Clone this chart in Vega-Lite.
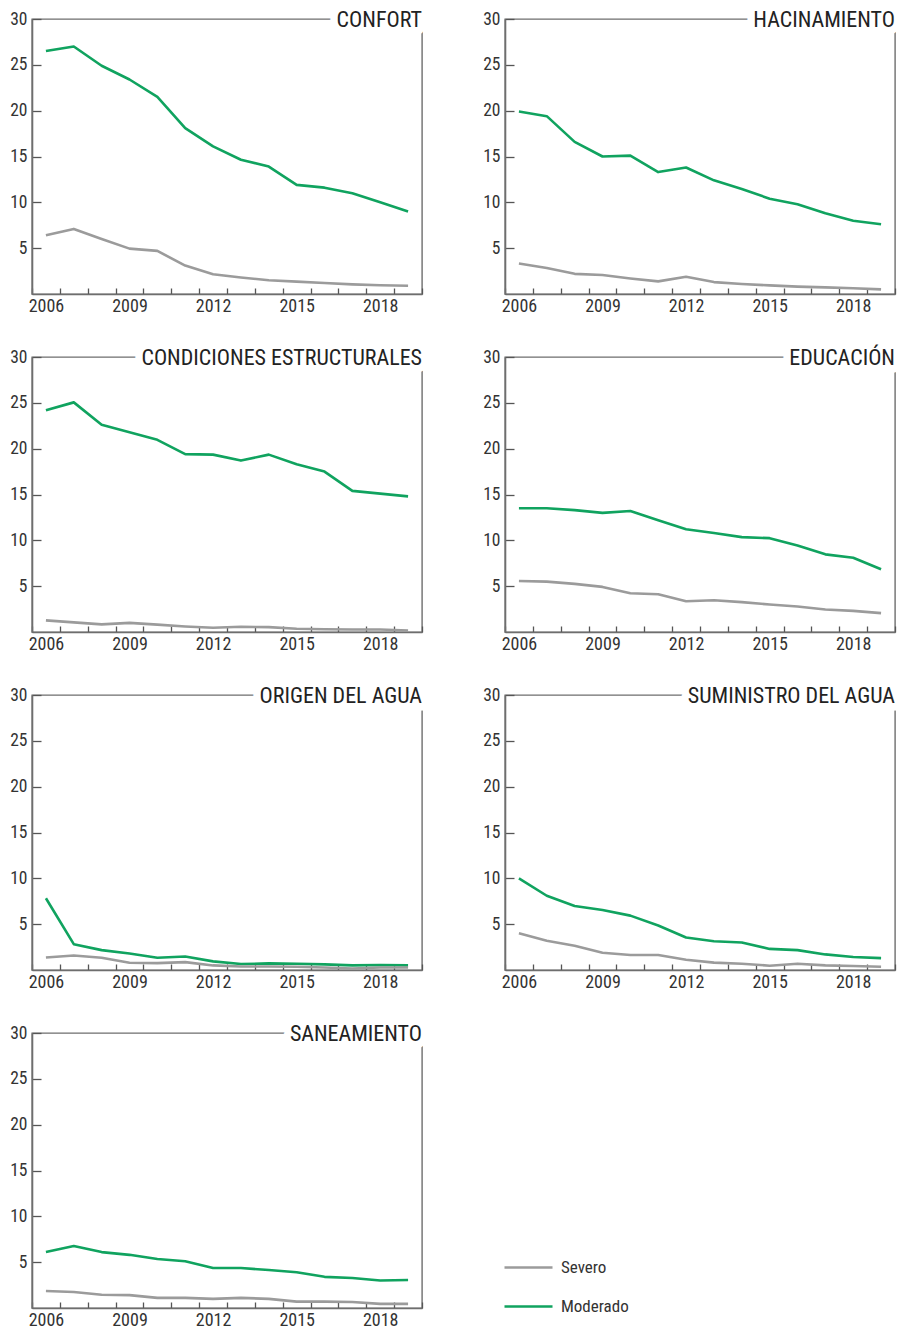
{
  "$schema": "https://vega.github.io/schema/vega-lite/v6.json",
  "padding": {"left": 9, "top": 8, "right": 4, "bottom": 5},
  "bounds": "flush",
  "columns": 2,
  "spacing": {"row": 63, "column": 83},
  "data": {"values": [
    {"panel": "CONFORT", "level": "Moderado", "year": 2006, "value": 26.5},
    {"panel": "CONFORT", "level": "Moderado", "year": 2007, "value": 27.0},
    {"panel": "CONFORT", "level": "Moderado", "year": 2008, "value": 24.9},
    {"panel": "CONFORT", "level": "Moderado", "year": 2009, "value": 23.4},
    {"panel": "CONFORT", "level": "Moderado", "year": 2010, "value": 21.5},
    {"panel": "CONFORT", "level": "Moderado", "year": 2011, "value": 18.1},
    {"panel": "CONFORT", "level": "Moderado", "year": 2012, "value": 16.1},
    {"panel": "CONFORT", "level": "Moderado", "year": 2013, "value": 14.65},
    {"panel": "CONFORT", "level": "Moderado", "year": 2014, "value": 13.9},
    {"panel": "CONFORT", "level": "Moderado", "year": 2015, "value": 11.9},
    {"panel": "CONFORT", "level": "Moderado", "year": 2016, "value": 11.6},
    {"panel": "CONFORT", "level": "Moderado", "year": 2017, "value": 11.0},
    {"panel": "CONFORT", "level": "Moderado", "year": 2018, "value": 10.0},
    {"panel": "CONFORT", "level": "Moderado", "year": 2019, "value": 9.0},
    {"panel": "CONFORT", "level": "Severo", "year": 2006, "value": 6.4},
    {"panel": "CONFORT", "level": "Severo", "year": 2007, "value": 7.1},
    {"panel": "CONFORT", "level": "Severo", "year": 2008, "value": 6.0},
    {"panel": "CONFORT", "level": "Severo", "year": 2009, "value": 4.95},
    {"panel": "CONFORT", "level": "Severo", "year": 2010, "value": 4.7},
    {"panel": "CONFORT", "level": "Severo", "year": 2011, "value": 3.1},
    {"panel": "CONFORT", "level": "Severo", "year": 2012, "value": 2.15},
    {"panel": "CONFORT", "level": "Severo", "year": 2013, "value": 1.8},
    {"panel": "CONFORT", "level": "Severo", "year": 2014, "value": 1.5},
    {"panel": "CONFORT", "level": "Severo", "year": 2015, "value": 1.35},
    {"panel": "CONFORT", "level": "Severo", "year": 2016, "value": 1.2},
    {"panel": "CONFORT", "level": "Severo", "year": 2017, "value": 1.05},
    {"panel": "CONFORT", "level": "Severo", "year": 2018, "value": 0.95},
    {"panel": "CONFORT", "level": "Severo", "year": 2019, "value": 0.9},
    {"panel": "HACINAMIENTO", "level": "Moderado", "year": 2006, "value": 19.9},
    {"panel": "HACINAMIENTO", "level": "Moderado", "year": 2007, "value": 19.4},
    {"panel": "HACINAMIENTO", "level": "Moderado", "year": 2008, "value": 16.6},
    {"panel": "HACINAMIENTO", "level": "Moderado", "year": 2009, "value": 15.0},
    {"panel": "HACINAMIENTO", "level": "Moderado", "year": 2010, "value": 15.1},
    {"panel": "HACINAMIENTO", "level": "Moderado", "year": 2011, "value": 13.3},
    {"panel": "HACINAMIENTO", "level": "Moderado", "year": 2012, "value": 13.8},
    {"panel": "HACINAMIENTO", "level": "Moderado", "year": 2013, "value": 12.4},
    {"panel": "HACINAMIENTO", "level": "Moderado", "year": 2014, "value": 11.45},
    {"panel": "HACINAMIENTO", "level": "Moderado", "year": 2015, "value": 10.4},
    {"panel": "HACINAMIENTO", "level": "Moderado", "year": 2016, "value": 9.8},
    {"panel": "HACINAMIENTO", "level": "Moderado", "year": 2017, "value": 8.8},
    {"panel": "HACINAMIENTO", "level": "Moderado", "year": 2018, "value": 8.0},
    {"panel": "HACINAMIENTO", "level": "Moderado", "year": 2019, "value": 7.6},
    {"panel": "HACINAMIENTO", "level": "Severo", "year": 2006, "value": 3.33},
    {"panel": "HACINAMIENTO", "level": "Severo", "year": 2007, "value": 2.83},
    {"panel": "HACINAMIENTO", "level": "Severo", "year": 2008, "value": 2.2},
    {"panel": "HACINAMIENTO", "level": "Severo", "year": 2009, "value": 2.07},
    {"panel": "HACINAMIENTO", "level": "Severo", "year": 2010, "value": 1.7},
    {"panel": "HACINAMIENTO", "level": "Severo", "year": 2011, "value": 1.38},
    {"panel": "HACINAMIENTO", "level": "Severo", "year": 2012, "value": 1.88},
    {"panel": "HACINAMIENTO", "level": "Severo", "year": 2013, "value": 1.3},
    {"panel": "HACINAMIENTO", "level": "Severo", "year": 2014, "value": 1.09},
    {"panel": "HACINAMIENTO", "level": "Severo", "year": 2015, "value": 0.94},
    {"panel": "HACINAMIENTO", "level": "Severo", "year": 2016, "value": 0.8},
    {"panel": "HACINAMIENTO", "level": "Severo", "year": 2017, "value": 0.72},
    {"panel": "HACINAMIENTO", "level": "Severo", "year": 2018, "value": 0.62},
    {"panel": "HACINAMIENTO", "level": "Severo", "year": 2019, "value": 0.5},
    {"panel": "CONDICIONES ESTRUCTURALES", "level": "Moderado", "year": 2006, "value": 24.2},
    {"panel": "CONDICIONES ESTRUCTURALES", "level": "Moderado", "year": 2007, "value": 25.05},
    {"panel": "CONDICIONES ESTRUCTURALES", "level": "Moderado", "year": 2008, "value": 22.6},
    {"panel": "CONDICIONES ESTRUCTURALES", "level": "Moderado", "year": 2009, "value": 21.8},
    {"panel": "CONDICIONES ESTRUCTURALES", "level": "Moderado", "year": 2010, "value": 20.96},
    {"panel": "CONDICIONES ESTRUCTURALES", "level": "Moderado", "year": 2011, "value": 19.4},
    {"panel": "CONDICIONES ESTRUCTURALES", "level": "Moderado", "year": 2012, "value": 19.35},
    {"panel": "CONDICIONES ESTRUCTURALES", "level": "Moderado", "year": 2013, "value": 18.7},
    {"panel": "CONDICIONES ESTRUCTURALES", "level": "Moderado", "year": 2014, "value": 19.35},
    {"panel": "CONDICIONES ESTRUCTURALES", "level": "Moderado", "year": 2015, "value": 18.3},
    {"panel": "CONDICIONES ESTRUCTURALES", "level": "Moderado", "year": 2016, "value": 17.5},
    {"panel": "CONDICIONES ESTRUCTURALES", "level": "Moderado", "year": 2017, "value": 15.4},
    {"panel": "CONDICIONES ESTRUCTURALES", "level": "Moderado", "year": 2018, "value": 15.1},
    {"panel": "CONDICIONES ESTRUCTURALES", "level": "Moderado", "year": 2019, "value": 14.8},
    {"panel": "CONDICIONES ESTRUCTURALES", "level": "Severo", "year": 2006, "value": 1.27},
    {"panel": "CONDICIONES ESTRUCTURALES", "level": "Severo", "year": 2007, "value": 1.05},
    {"panel": "CONDICIONES ESTRUCTURALES", "level": "Severo", "year": 2008, "value": 0.83},
    {"panel": "CONDICIONES ESTRUCTURALES", "level": "Severo", "year": 2009, "value": 1.0},
    {"panel": "CONDICIONES ESTRUCTURALES", "level": "Severo", "year": 2010, "value": 0.8},
    {"panel": "CONDICIONES ESTRUCTURALES", "level": "Severo", "year": 2011, "value": 0.6},
    {"panel": "CONDICIONES ESTRUCTURALES", "level": "Severo", "year": 2012, "value": 0.46},
    {"panel": "CONDICIONES ESTRUCTURALES", "level": "Severo", "year": 2013, "value": 0.57},
    {"panel": "CONDICIONES ESTRUCTURALES", "level": "Severo", "year": 2014, "value": 0.53},
    {"panel": "CONDICIONES ESTRUCTURALES", "level": "Severo", "year": 2015, "value": 0.35},
    {"panel": "CONDICIONES ESTRUCTURALES", "level": "Severo", "year": 2016, "value": 0.3},
    {"panel": "CONDICIONES ESTRUCTURALES", "level": "Severo", "year": 2017, "value": 0.28},
    {"panel": "CONDICIONES ESTRUCTURALES", "level": "Severo", "year": 2018, "value": 0.28},
    {"panel": "CONDICIONES ESTRUCTURALES", "level": "Severo", "year": 2019, "value": 0.17},
    {"panel": "EDUCACIÓN", "level": "Moderado", "year": 2006, "value": 13.5},
    {"panel": "EDUCACIÓN", "level": "Moderado", "year": 2007, "value": 13.5},
    {"panel": "EDUCACIÓN", "level": "Moderado", "year": 2008, "value": 13.3},
    {"panel": "EDUCACIÓN", "level": "Moderado", "year": 2009, "value": 13.0},
    {"panel": "EDUCACIÓN", "level": "Moderado", "year": 2010, "value": 13.2},
    {"panel": "EDUCACIÓN", "level": "Moderado", "year": 2011, "value": 12.2},
    {"panel": "EDUCACIÓN", "level": "Moderado", "year": 2012, "value": 11.2},
    {"panel": "EDUCACIÓN", "level": "Moderado", "year": 2013, "value": 10.8},
    {"panel": "EDUCACIÓN", "level": "Moderado", "year": 2014, "value": 10.35},
    {"panel": "EDUCACIÓN", "level": "Moderado", "year": 2015, "value": 10.24},
    {"panel": "EDUCACIÓN", "level": "Moderado", "year": 2016, "value": 9.44},
    {"panel": "EDUCACIÓN", "level": "Moderado", "year": 2017, "value": 8.47},
    {"panel": "EDUCACIÓN", "level": "Moderado", "year": 2018, "value": 8.1},
    {"panel": "EDUCACIÓN", "level": "Moderado", "year": 2019, "value": 6.84},
    {"panel": "EDUCACIÓN", "level": "Severo", "year": 2006, "value": 5.57},
    {"panel": "EDUCACIÓN", "level": "Severo", "year": 2007, "value": 5.5},
    {"panel": "EDUCACIÓN", "level": "Severo", "year": 2008, "value": 5.25},
    {"panel": "EDUCACIÓN", "level": "Severo", "year": 2009, "value": 4.92},
    {"panel": "EDUCACIÓN", "level": "Severo", "year": 2010, "value": 4.23},
    {"panel": "EDUCACIÓN", "level": "Severo", "year": 2011, "value": 4.12},
    {"panel": "EDUCACIÓN", "level": "Severo", "year": 2012, "value": 3.36},
    {"panel": "EDUCACIÓN", "level": "Severo", "year": 2013, "value": 3.47},
    {"panel": "EDUCACIÓN", "level": "Severo", "year": 2014, "value": 3.26},
    {"panel": "EDUCACIÓN", "level": "Severo", "year": 2015, "value": 3.0},
    {"panel": "EDUCACIÓN", "level": "Severo", "year": 2016, "value": 2.79},
    {"panel": "EDUCACIÓN", "level": "Severo", "year": 2017, "value": 2.46},
    {"panel": "EDUCACIÓN", "level": "Severo", "year": 2018, "value": 2.3},
    {"panel": "EDUCACIÓN", "level": "Severo", "year": 2019, "value": 2.06},
    {"panel": "ORIGEN DEL AGUA", "level": "Moderado", "year": 2006, "value": 7.83},
    {"panel": "ORIGEN DEL AGUA", "level": "Moderado", "year": 2007, "value": 2.82},
    {"panel": "ORIGEN DEL AGUA", "level": "Moderado", "year": 2008, "value": 2.17},
    {"panel": "ORIGEN DEL AGUA", "level": "Moderado", "year": 2009, "value": 1.8},
    {"panel": "ORIGEN DEL AGUA", "level": "Moderado", "year": 2010, "value": 1.34},
    {"panel": "ORIGEN DEL AGUA", "level": "Moderado", "year": 2011, "value": 1.48},
    {"panel": "ORIGEN DEL AGUA", "level": "Moderado", "year": 2012, "value": 0.94},
    {"panel": "ORIGEN DEL AGUA", "level": "Moderado", "year": 2013, "value": 0.65},
    {"panel": "ORIGEN DEL AGUA", "level": "Moderado", "year": 2014, "value": 0.72},
    {"panel": "ORIGEN DEL AGUA", "level": "Moderado", "year": 2015, "value": 0.68},
    {"panel": "ORIGEN DEL AGUA", "level": "Moderado", "year": 2016, "value": 0.61},
    {"panel": "ORIGEN DEL AGUA", "level": "Moderado", "year": 2017, "value": 0.5},
    {"panel": "ORIGEN DEL AGUA", "level": "Moderado", "year": 2018, "value": 0.54},
    {"panel": "ORIGEN DEL AGUA", "level": "Moderado", "year": 2019, "value": 0.5},
    {"panel": "ORIGEN DEL AGUA", "level": "Severo", "year": 2006, "value": 1.37},
    {"panel": "ORIGEN DEL AGUA", "level": "Severo", "year": 2007, "value": 1.59},
    {"panel": "ORIGEN DEL AGUA", "level": "Severo", "year": 2008, "value": 1.34},
    {"panel": "ORIGEN DEL AGUA", "level": "Severo", "year": 2009, "value": 0.79},
    {"panel": "ORIGEN DEL AGUA", "level": "Severo", "year": 2010, "value": 0.75},
    {"panel": "ORIGEN DEL AGUA", "level": "Severo", "year": 2011, "value": 0.86},
    {"panel": "ORIGEN DEL AGUA", "level": "Severo", "year": 2012, "value": 0.5},
    {"panel": "ORIGEN DEL AGUA", "level": "Severo", "year": 2013, "value": 0.39},
    {"panel": "ORIGEN DEL AGUA", "level": "Severo", "year": 2014, "value": 0.39},
    {"panel": "ORIGEN DEL AGUA", "level": "Severo", "year": 2015, "value": 0.36},
    {"panel": "ORIGEN DEL AGUA", "level": "Severo", "year": 2016, "value": 0.28},
    {"panel": "ORIGEN DEL AGUA", "level": "Severo", "year": 2017, "value": 0.17},
    {"panel": "ORIGEN DEL AGUA", "level": "Severo", "year": 2018, "value": 0.28},
    {"panel": "ORIGEN DEL AGUA", "level": "Severo", "year": 2019, "value": 0.28},
    {"panel": "SUMINISTRO DEL AGUA", "level": "Moderado", "year": 2006, "value": 10.0},
    {"panel": "SUMINISTRO DEL AGUA", "level": "Moderado", "year": 2007, "value": 8.1},
    {"panel": "SUMINISTRO DEL AGUA", "level": "Moderado", "year": 2008, "value": 6.98},
    {"panel": "SUMINISTRO DEL AGUA", "level": "Moderado", "year": 2009, "value": 6.55},
    {"panel": "SUMINISTRO DEL AGUA", "level": "Moderado", "year": 2010, "value": 5.93},
    {"panel": "SUMINISTRO DEL AGUA", "level": "Moderado", "year": 2011, "value": 4.85},
    {"panel": "SUMINISTRO DEL AGUA", "level": "Moderado", "year": 2012, "value": 3.54},
    {"panel": "SUMINISTRO DEL AGUA", "level": "Moderado", "year": 2013, "value": 3.14},
    {"panel": "SUMINISTRO DEL AGUA", "level": "Moderado", "year": 2014, "value": 3.0},
    {"panel": "SUMINISTRO DEL AGUA", "level": "Moderado", "year": 2015, "value": 2.3},
    {"panel": "SUMINISTRO DEL AGUA", "level": "Moderado", "year": 2016, "value": 2.17},
    {"panel": "SUMINISTRO DEL AGUA", "level": "Moderado", "year": 2017, "value": 1.7},
    {"panel": "SUMINISTRO DEL AGUA", "level": "Moderado", "year": 2018, "value": 1.41},
    {"panel": "SUMINISTRO DEL AGUA", "level": "Moderado", "year": 2019, "value": 1.3},
    {"panel": "SUMINISTRO DEL AGUA", "level": "Severo", "year": 2006, "value": 4.0},
    {"panel": "SUMINISTRO DEL AGUA", "level": "Severo", "year": 2007, "value": 3.2},
    {"panel": "SUMINISTRO DEL AGUA", "level": "Severo", "year": 2008, "value": 2.65},
    {"panel": "SUMINISTRO DEL AGUA", "level": "Severo", "year": 2009, "value": 1.88},
    {"panel": "SUMINISTRO DEL AGUA", "level": "Severo", "year": 2010, "value": 1.63},
    {"panel": "SUMINISTRO DEL AGUA", "level": "Severo", "year": 2011, "value": 1.63},
    {"panel": "SUMINISTRO DEL AGUA", "level": "Severo", "year": 2012, "value": 1.12},
    {"panel": "SUMINISTRO DEL AGUA", "level": "Severo", "year": 2013, "value": 0.8},
    {"panel": "SUMINISTRO DEL AGUA", "level": "Severo", "year": 2014, "value": 0.69},
    {"panel": "SUMINISTRO DEL AGUA", "level": "Severo", "year": 2015, "value": 0.47},
    {"panel": "SUMINISTRO DEL AGUA", "level": "Severo", "year": 2016, "value": 0.69},
    {"panel": "SUMINISTRO DEL AGUA", "level": "Severo", "year": 2017, "value": 0.5},
    {"panel": "SUMINISTRO DEL AGUA", "level": "Severo", "year": 2018, "value": 0.43},
    {"panel": "SUMINISTRO DEL AGUA", "level": "Severo", "year": 2019, "value": 0.36},
    {"panel": "SANEAMIENTO", "level": "Moderado", "year": 2006, "value": 6.1},
    {"panel": "SANEAMIENTO", "level": "Moderado", "year": 2007, "value": 6.76},
    {"panel": "SANEAMIENTO", "level": "Moderado", "year": 2008, "value": 6.1},
    {"panel": "SANEAMIENTO", "level": "Moderado", "year": 2009, "value": 5.8},
    {"panel": "SANEAMIENTO", "level": "Moderado", "year": 2010, "value": 5.35},
    {"panel": "SANEAMIENTO", "level": "Moderado", "year": 2011, "value": 5.1},
    {"panel": "SANEAMIENTO", "level": "Moderado", "year": 2012, "value": 4.36},
    {"panel": "SANEAMIENTO", "level": "Moderado", "year": 2013, "value": 4.36},
    {"panel": "SANEAMIENTO", "level": "Moderado", "year": 2014, "value": 4.15},
    {"panel": "SANEAMIENTO", "level": "Moderado", "year": 2015, "value": 3.9},
    {"panel": "SANEAMIENTO", "level": "Moderado", "year": 2016, "value": 3.4},
    {"panel": "SANEAMIENTO", "level": "Moderado", "year": 2017, "value": 3.27},
    {"panel": "SANEAMIENTO", "level": "Moderado", "year": 2018, "value": 3.0},
    {"panel": "SANEAMIENTO", "level": "Moderado", "year": 2019, "value": 3.05},
    {"panel": "SANEAMIENTO", "level": "Severo", "year": 2006, "value": 1.85},
    {"panel": "SANEAMIENTO", "level": "Severo", "year": 2007, "value": 1.75},
    {"panel": "SANEAMIENTO", "level": "Severo", "year": 2008, "value": 1.45},
    {"panel": "SANEAMIENTO", "level": "Severo", "year": 2009, "value": 1.4},
    {"panel": "SANEAMIENTO", "level": "Severo", "year": 2010, "value": 1.1},
    {"panel": "SANEAMIENTO", "level": "Severo", "year": 2011, "value": 1.1},
    {"panel": "SANEAMIENTO", "level": "Severo", "year": 2012, "value": 1.0},
    {"panel": "SANEAMIENTO", "level": "Severo", "year": 2013, "value": 1.1},
    {"panel": "SANEAMIENTO", "level": "Severo", "year": 2014, "value": 1.0},
    {"panel": "SANEAMIENTO", "level": "Severo", "year": 2015, "value": 0.7},
    {"panel": "SANEAMIENTO", "level": "Severo", "year": 2016, "value": 0.7},
    {"panel": "SANEAMIENTO", "level": "Severo", "year": 2017, "value": 0.65},
    {"panel": "SANEAMIENTO", "level": "Severo", "year": 2018, "value": 0.45},
    {"panel": "SANEAMIENTO", "level": "Severo", "year": 2019, "value": 0.45}
  ]},
  "facet": {
    "field": "panel",
    "type": "nominal",
    "title": null,
    "header": {"labels": false, "labelFontSize": 0, "labelExpr": "''", "labelPadding": 0, "title": null},
    "sort": ["CONFORT", "HACINAMIENTO", "CONDICIONES ESTRUCTURALES", "EDUCACIÓN", "ORIGEN DEL AGUA", "SUMINISTRO DEL AGUA", "SANEAMIENTO"]
  },
  "spec": {
    "width": 390,
    "height": 275,
    "layer": [
      {
        "mark": {"type": "line", "strokeWidth": 2.6, "strokeJoin": "round"},
        "encoding": {
          "x": {
            "field": "year",
            "type": "ordinal",
            "bandPosition": 0.5,
            "scale": {"type": "band", "paddingInner": 0, "paddingOuter": 0},
            "title": null,
            "axis": {
              "tickBand": "extent",
              "tickSize": -6,
              "labelPadding": 9,
              "labelAngle": 0,
              "labelFontSize": 18,
              "labelOverlap": false,
              "labelExpr": "(datum.value - 2006) % 3 == 0 ? datum.label : ''"
            }
          },
          "y": {
            "field": "value",
            "type": "quantitative",
            "scale": {"domain": [0, 30], "nice": false, "zero": true},
            "title": null,
            "axis": {"values": [5, 10, 15, 20, 25, 30], "tickSize": -9, "labelPadding": 14, "labelFontSize": 17.5, "grid": false}
          },
          "color": {
            "field": "level",
            "type": "nominal",
            "scale": {"domain": ["Severo", "Moderado"], "range": ["#9b9b9b", "#10a35f"]},
            "legend": {
              "title": null,
              "orient": "none",
              "legendX": 471,
              "legendY": 1223,
              "symbolType": "stroke",
              "symbolSize": 2304,
              "symbolStrokeWidth": 2.6,
              "labelFontSize": 17,
              "labelColor": "#333333",
              "labelOffset": 7,
              "rowPadding": 5
            }
          },
          "order": {"field": "year", "type": "ordinal"}
        }
      },
      {
        "transform": [{"filter": "datum.year == 2019 && datum.level == 'Moderado'"}],
        "mark": {"type": "text", "align": "right", "baseline": "alphabetic", "dy": 8, "fontSize": 22, "fill": "white", "stroke": "white", "strokeWidth": 15, "strokeJoin": "round"},
        "encoding": {
          "text": {"field": "panel"},
          "x": {"value": "width"},
          "y": {"datum": 30}
        }
      },
      {
        "transform": [{"filter": "datum.year == 2019 && datum.level == 'Moderado'"}],
        "mark": {"type": "text", "align": "right", "baseline": "alphabetic", "dy": 8, "fontSize": 22, "fill": "#222222"},
        "encoding": {
          "text": {"field": "panel"},
          "x": {"value": "width"},
          "y": {"datum": 30}
        }
      }
    ]
  },
  "resolve": {"axis": {"x": "independent", "y": "independent"}},
  "config": {
    "font": "Liberation Sans Narrow, Roboto Condensed, Arial Narrow, Roboto, sans-serif",
    "background": "white",
    "header": {"labels": false, "title": null, "labelFontSize": 0, "labelPadding": 0},
    "headerFacet": {"labels": false, "title": null, "labelFontSize": 0, "labelPadding": 0},
    "view": {"stroke": "#6e6e6e", "strokeWidth": 1.4},
    "axis": {
      "domainColor": "#6e6e6e",
      "domainWidth": 1.6,
      "tickColor": "#555555",
      "tickWidth": 1.3,
      "labelFontSize": 17,
      "labelColor": "#333333"
    }
  }
}
